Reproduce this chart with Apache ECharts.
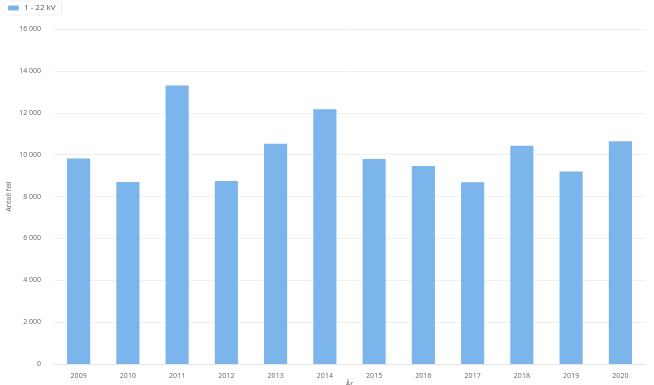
<!DOCTYPE html>
<html><head><meta charset="utf-8">
<script src="https://cdn.jsdelivr.net/npm/echarts@6/dist/echarts.min.js"></script>
<style>html,body{margin:0;padding:0;background:#fff}#c{width:654px;height:385px}</style>
</head><body><div id="c"></div>
<script>
const categories = ['2009','2010','2011','2012','2013','2014','2015','2016','2017','2018','2019','2020'];
const seriesName = '1 - 22 kV';
const values = [9820, 8690, 13300, 8740, 10520, 12170, 9790, 9460, 8680, 10420, 9190, 10640];
const yTicks = [0, 2000, 4000, 6000, 8000, 10000, 12000, 14000, 16000];

const chart = echarts.init(document.getElementById('c'));
const font = 'Open Sans';
chart.setOption({
  animation: false,
  textStyle: {fontFamily: font},
  legend: {
    left: 4, top: 1, itemWidth: 11, itemHeight: 5, itemGap: 10,
    padding: [3, 6, 3, 4],
    borderColor: '#f2f2f2', borderWidth: 1, borderRadius: 2,
    textStyle: {fontSize: 8, color: '#555', fontFamily: font},
    data: [seriesName]
  },
  grid: {left: 54, right: 9, top: 29, bottom: 21, containLabel: false, outerBoundsMode: 'none'},
  xAxis: {
    type: 'category', data: categories,
    name: 'År', nameLocation: 'middle', nameGap: 16, nameMoveOverlap: false,
    nameTextStyle: {fontSize: 7, color: '#666', fontFamily: font},
    axisLine: {lineStyle: {color: '#e6e6e6'}},
    axisTick: {show: false},
    axisLabel: {fontSize: 7, color: '#666', margin: 8, fontFamily: font}
  },
  yAxis: {
    type: 'value', min: 0, max: 16000, interval: 2000,
    name: 'Antall feil', nameLocation: 'middle', nameGap: 42, nameRotate: 90, nameMoveOverlap: false,
    nameTextStyle: {fontSize: 7, color: '#666', fontFamily: font},
    axisLine: {show: false}, axisTick: {show: false},
    splitLine: {lineStyle: {color: '#f0f0f0'}},
    axisLabel: {fontSize: 7, color: '#666', margin: 13, fontFamily: font,
      formatter: v => yTicks.includes(v) ? (v >= 1000 ? Math.floor(v/1000) + ' ' + String(v%1000).padStart(3,'0') : String(v)) : ''}
  },
  series: [{
    name: seriesName, type: 'bar', data: values, barWidth: '47%',
    itemStyle: {color: '#7cb5ec'}
  }]
});
</script></body></html>
